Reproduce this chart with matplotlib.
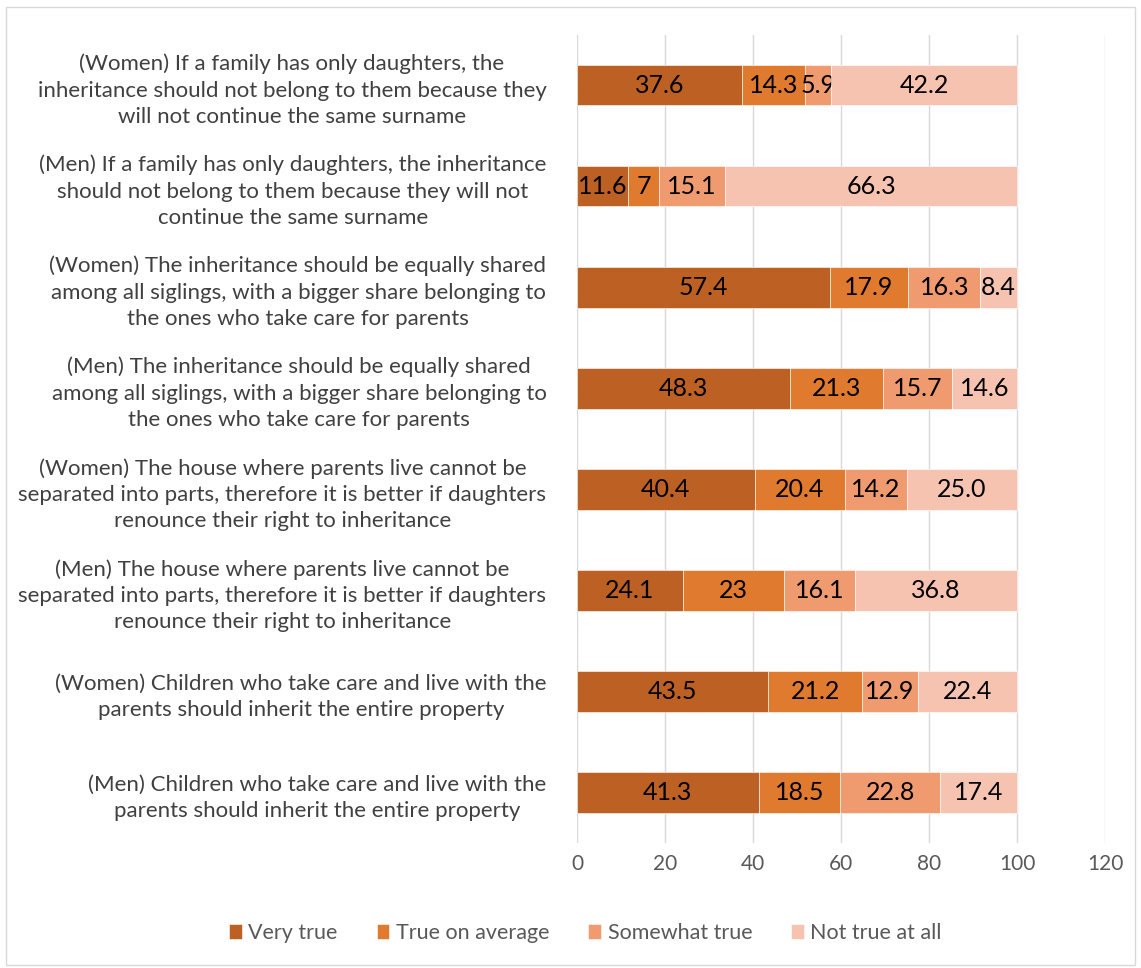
import matplotlib.pyplot as plt
import numpy as np

plt.rcParams['font.family'] = ['Lato', 'DejaVu Sans']

# categorias de arriba hacia abajo
categorias = [
    "(Women) If a family has only daughters, the\ninheritance should not belong to them because they\nwill not continue the same surname",
    "(Men) If a family has only daughters, the inheritance\nshould not belong to them because they will not\ncontinue the same surname",
    "(Women) The inheritance should be equally shared\namong all siglings, with a bigger share belonging to\nthe ones who take care for parents",
    "(Men) The inheritance should be equally shared\namong all siglings, with a bigger share belonging to\nthe ones who take care for parents",
    "(Women) The house where parents live cannot be\nseparated into parts, therefore it is better if daughters\nrenounce their right to inheritance",
    "(Men) The house where parents live cannot be\nseparated into parts, therefore it is better if daughters\nrenounce their right to inheritance",
    "(Women) Children who take care and live with the\nparents should inherit the entire property",
    "(Men) Children who take care and live with the\nparents should inherit the entire property",
]

very_true = ["37.6", "11.6", "57.4", "48.3", "40.4", "24.1", "43.5", "41.3"]
true_avg = ["14.3", "7", "17.9", "21.3", "20.4", "23", "21.2", "18.5"]
somewhat = ["5.9", "15.1", "16.3", "15.7", "14.2", "16.1", "12.9", "22.8"]
not_true = ["42.2", "66.3", "8.4", "14.6", "25.0", "36.8", "22.4", "17.4"]

series = ["Very true", "True on average", "Somewhat true", "Not true at all"]
colores = ["#BD6024", "#E07A2F", "#F09A6F", "#F6C3B1"]

fig = plt.figure(figsize=(11.41, 9.68), dpi=100)
ax = fig.add_axes([0.5057, 0.129, 0.4628, 0.8352])

y = np.arange(len(categorias))
izq = np.zeros(len(categorias))
for nombre, datos, col in zip(series, [very_true, true_avg, somewhat, not_true], colores):
    vals = np.array([float(v) for v in datos])
    barras = ax.barh(y, vals, left=izq, height=0.4, color=col, label=nombre,
                     edgecolor='white', linewidth=0.4, zorder=3)
    ax.bar_label(barras, labels=datos, label_type='center', fontsize=18, color='black')
    izq += vals

ax.set_xlim(0, 120)
ax.set_ylim(len(categorias) - 0.5, -0.5)
ax.set_xticks(np.arange(0, 121, 20))
ax.set_yticks(y)
ax.set_yticklabels(categorias, fontsize=16, color='#404040')
for t in ax.get_yticklabels():
    t.set_multialignment('center')
    t.set_linespacing(1.4)
ax.tick_params(axis='y', length=0, pad=22)
ax.tick_params(axis='x', length=0, labelsize=15, labelcolor='#595959', pad=8)
ax.grid(axis='x', color='#D9D9D9', linewidth=1, zorder=0)
for s in ax.spines.values():
    s.set_visible(False)

fig.legend(loc='center', bbox_to_anchor=(0.513, 0.036), ncol=4, frameon=False,
           fontsize=15.5, handlelength=0.6, handleheight=0.7, handletextpad=0.3,
           columnspacing=1.8, labelcolor='#595959')

borde = plt.Rectangle((0.005, 0.003), 0.99, 0.99, transform=fig.transFigure,
                      fill=False, edgecolor='#D9D9D9', linewidth=1)
fig.patches.append(borde)

fig.savefig("out.png", dpi=100)
